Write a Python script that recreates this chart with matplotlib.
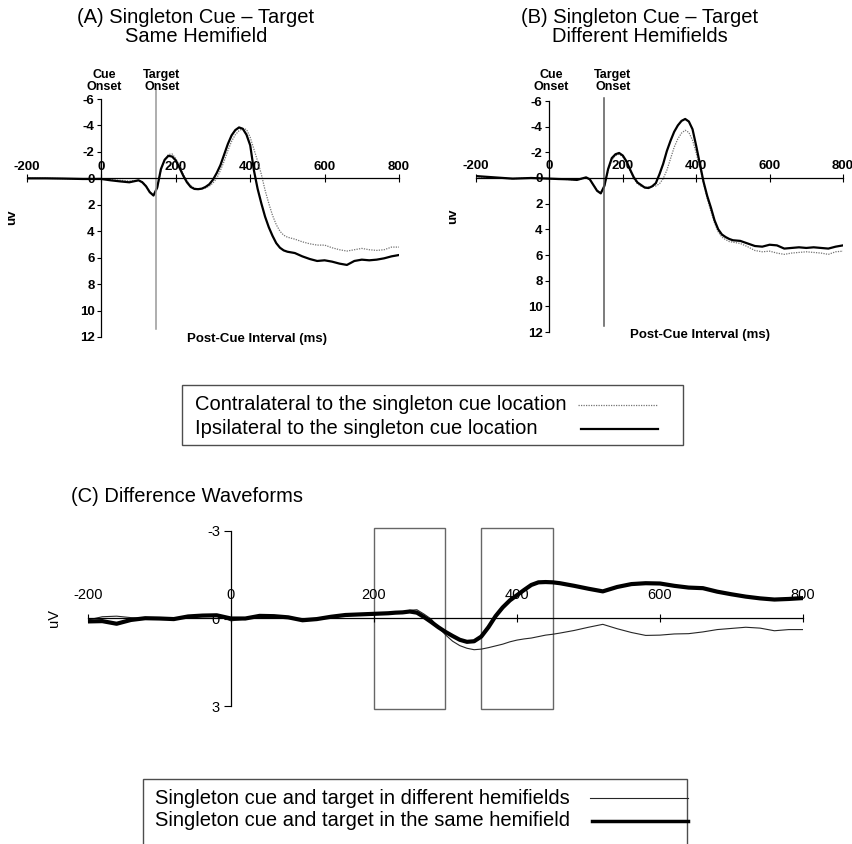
import matplotlib.pyplot as plt
from matplotlib.patches import Rectangle
from matplotlib.lines import Line2D

plt.rcParams['font.family'] = ['Liberation Sans', 'DejaVu Sans']
plt.rcParams['axes.unicode_minus'] = False

W, H = 853, 844

# ERP waveforms, panels A and B (ms, uV; negative up)
t_ab = [-200, -150, -100, -50, 0, 25, 50, 75,
        100, 110, 120, 130, 140, 150, 160, 170, 180, 190,
        200, 210, 220, 230, 240, 250, 260, 270, 280, 290,
        300, 310, 320, 330, 340, 350, 360, 370, 380, 390,
        400, 410, 420, 430, 440, 450, 460, 470, 480, 490,
        500, 520, 540, 560, 580, 600, 620, 640, 660, 680,
        700, 720, 740, 760, 780, 800]

a_contra = [0, 0, 0.02, 0.05, 0.05, 0.1, 0.15, 0.2,
            0.15, 0.25, 0.55, 1.0, 1.25, 0.75, -0.6, -1.4, -1.8, -1.85,
            -1.5, -0.95, -0.3, 0.2, 0.55, 0.75, 0.8, 0.8, 0.72, 0.6,
            0.35, 0.0, -0.6, -1.3, -2.1, -2.8, -3.3, -3.6, -3.75, -3.7,
            -3.1, -2.2, -1.3, -0.3, 0.9, 1.9, 2.8, 3.5, 4.0, 4.3,
            4.45, 4.6, 4.8, 4.95, 5.05, 5.05, 5.25, 5.4, 5.5, 5.4,
            5.3, 5.4, 5.45, 5.4, 5.2, 5.2]
a_ipsi = [0, 0, 0.02, 0.05, 0.05, 0.15, 0.23, 0.3,
          0.15, 0.3, 0.6, 1.05, 1.3, 0.7, -0.7, -1.4, -1.7, -1.65,
          -1.35, -0.8, -0.2, 0.3, 0.65, 0.8, 0.82, 0.78, 0.65, 0.45,
          0.1, -0.4, -1.0, -1.8, -2.6, -3.25, -3.65, -3.85, -3.75, -3.3,
          -2.5, -0.6, 0.8, 1.9, 2.9, 3.7, 4.35, 4.9, 5.25, 5.45,
          5.55, 5.65, 5.9, 6.1, 6.25, 6.2, 6.3, 6.45, 6.55, 6.25,
          6.15, 6.2, 6.15, 6.05, 5.9, 5.8]

b_contra = [-0.1, 0.0, 0.05, 0.0, 0.05, 0.08, 0.12, 0.15,
            0.0, 0.15, 0.55, 0.95, 1.15, 0.6, -0.6, -1.4, -1.75, -1.85,
            -1.65, -1.2, -0.55, 0.05, 0.45, 0.65, 0.72, 0.7, 0.65, 0.62,
            0.45, 0.05, -0.6, -1.5, -2.4, -3.05, -3.5, -3.72, -3.55, -2.95,
            -1.95, -0.8, 0.4, 1.6, 2.6, 3.5, 4.2, 4.6, 4.8, 4.95,
            5.0, 5.1, 5.35, 5.65, 5.75, 5.7, 5.85, 5.95, 5.85, 5.8,
            5.75, 5.8, 5.85, 5.95, 5.75, 5.7]
b_ipsi = [-0.15, -0.05, 0.05, 0.0, 0.05, 0.08, 0.1, 0.15,
          -0.05, 0.1, 0.55, 1.0, 1.2, 0.6, -0.7, -1.55, -1.85, -1.95,
          -1.75, -1.3, -0.65, -0.05, 0.35, 0.55, 0.75, 0.78, 0.65, 0.4,
          -0.3, -1.1, -2.1, -2.9, -3.6, -4.1, -4.45, -4.6, -4.4, -3.8,
          -2.5, -1.1, 0.3, 1.4, 2.3, 3.3, 4.0, 4.4, 4.6, 4.75,
          4.85, 4.9, 5.1, 5.3, 5.35, 5.2, 5.25, 5.5, 5.45, 5.4,
          5.45, 5.4, 5.45, 5.5, 5.35, 5.25]

# difference waveforms, panel C
t_c = [-200, -180, -160, -140, -120, -100, -80, -60, -40, -20,
       0, 20, 40, 60, 80, 100, 120, 140, 160, 180, 200, 220,
       230, 240, 250, 260, 270, 280, 290, 300, 310, 320, 330, 340,
       350, 360, 370, 380, 390, 400, 410, 420, 430, 440, 450, 460,
       480, 500, 520, 540, 560, 580, 600, 620, 640, 660, 680,
       700, 720, 740, 760, 780, 800]
c_diff = [0.05, -0.06, -0.08, -0.03, 0.0, 0.0, 0.02, -0.05, -0.08, -0.1,
          0.08, 0.02, -0.08, -0.07, -0.04, 0.07, 0.02, -0.06, -0.1, -0.12, -0.14, -0.16,
          -0.18, -0.22, -0.28, -0.3, -0.15, 0.02, 0.3, 0.56, 0.78, 0.93, 1.02, 1.07,
          1.05, 1.0, 0.94, 0.88, 0.8, 0.74, 0.7, 0.67, 0.62, 0.57, 0.54, 0.5,
          0.41, 0.3, 0.2, 0.35, 0.48, 0.58, 0.57, 0.53, 0.52, 0.46, 0.38,
          0.34, 0.3, 0.33, 0.42, 0.38, 0.38]
c_same = [0.1, 0.09, 0.18, 0.05, -0.01, 0.0, 0.02, -0.07, -0.1, -0.11,
          0.0, 0.0, -0.09, -0.08, -0.04, 0.06, 0.02, -0.06, -0.12, -0.14, -0.16, -0.18,
          -0.2, -0.21, -0.24, -0.2, -0.05, 0.12, 0.3, 0.46, 0.6, 0.73, 0.8, 0.78,
          0.62, 0.3, -0.08, -0.38, -0.62, -0.8, -0.98, -1.15, -1.24, -1.25, -1.24, -1.21,
          -1.12, -1.02, -0.93, -1.08, -1.18, -1.21, -1.2, -1.12, -1.06, -1.04, -0.92,
          -0.83, -0.75, -0.69, -0.65, -0.67, -0.7]

ab_xticks = [-200, 0, 200, 400, 600, 800]
ab_yticks = [-6, -4, -2, 0, 2, 4, 6, 8, 10, 12]
c_xticks = [-200, 0, 200, 400, 600, 800]
c_yticks = [-3, 0, 3]
target_onset = 148
c_windows = [(200, 300), (350, 450)]

legend_ab = ['Contralateral to the singleton cue location',
             'Ipsilateral to the singleton cue location']
legend_c = ['Singleton cue and target in different hemifields',
            'Singleton cue and target in the same hemifield']

fig = plt.figure(figsize=(W / 100, H / 100), dpi=100)


def rect(l, t, r, b):
    return [l / W, 1 - b / H, (r - l) / W, (b - t) / H]


def ftext(x, y, s, **kw):
    fig.text(x / W, 1 - y / H, s, **kw)


def cross_axes(ax):
    ax.patch.set_visible(False)
    ax.spines['right'].set_visible(False)
    ax.spines['bottom'].set_visible(False)
    ax.spines['left'].set_position(('data', 0))
    ax.spines['top'].set_position(('data', 0))
    ax.spines['left'].set_linewidth(0.9)
    ax.spines['top'].set_linewidth(0.9)
    ax.xaxis.set_ticks_position('top')


def erp_panel(box, contra, ipsi, onset_color, onset_span):
    ax = fig.add_axes(rect(*box))
    ax.plot(t_ab, contra, color='0.45', lw=0.9, ls=(0, (1, 1)))
    ax.plot(t_ab, ipsi, color='black', lw=1.6)
    ax.set_xlim(-200, 800)
    ax.set_ylim(12, -6)
    cross_axes(ax)
    ax.set_xticks(ab_xticks)
    ax.set_yticks(ab_yticks)
    ax.tick_params(axis='x', direction='inout', length=6, width=0.8, pad=1, labelsize=9.5)
    ax.tick_params(axis='y', direction='out', length=3, width=0.8, pad=2, labelsize=9.5)
    for lab in ax.get_xticklabels() + ax.get_yticklabels():
        lab.set_fontweight('bold')
    ax.plot([target_onset, target_onset], onset_span, color=onset_color, lw=1.1, clip_on=False)
    return ax


erp_panel((27, 99, 399, 337), a_contra, a_ipsi, '0.6', [-6.7, 11.4])
erp_panel((476, 101, 843, 332), b_contra, b_ipsi, '0.35', [-6.2, 11.5])

bold = dict(fontweight='bold', ha='center', va='center')
ftext(196, 27, '(A) Singleton Cue – Target\nSame Hemifield', ha='center', va='center',
      fontsize=14.5, linespacing=1.05)
ftext(640, 27, '(B) Singleton Cue – Target\nDifferent Hemifields', ha='center', va='center',
      fontsize=14.5, linespacing=1.05)
for cx, tx in [(104, 162), (551, 613)]:
    ftext(cx, 81, 'Cue\nOnset', fontsize=9, linespacing=0.92, **bold)
    ftext(tx, 81, 'Target\nOnset', fontsize=9, linespacing=0.92, **bold)
ftext(12, 217, 'uv', fontsize=9.5, rotation=90, **bold)
ftext(453, 216, 'uv', fontsize=9.5, rotation=90, **bold)
ftext(257, 339, 'Post-Cue Interval (ms)', fontsize=9.5, **bold)
ftext(700, 335, 'Post-Cue Interval (ms)', fontsize=9.5, **bold)

# legend for A and B
fig.patches.append(Rectangle((182 / W, 1 - 445 / H), 501 / W, 60 / H, transform=fig.transFigure,
                             fill=False, ec='0.3', lw=1))
ftext(195, 405, legend_ab[0], fontsize=14.5, va='center')
ftext(195, 428, legend_ab[1], fontsize=14.5, va='center')
fig.lines.append(Line2D([578 / W, 658 / W], [1 - 405 / H] * 2, transform=fig.transFigure,
                        color='0.45', lw=0.9, ls=(0, (1, 1))))
fig.lines.append(Line2D([581 / W, 658 / W], [1 - 429 / H] * 2, transform=fig.transFigure,
                        color='black', lw=1.6))

# panel C
ftext(71, 497, '(C) Difference Waveforms', fontsize=14.5, va='center')
axc = fig.add_axes(rect(88, 531, 803, 706))
axc.plot(t_c, c_diff, color='0.15', lw=0.8)
axc.plot(t_c, c_same, color='black', lw=3)
axc.set_xlim(-200, 800)
axc.set_ylim(3, -3)
cross_axes(axc)
axc.set_xticks(c_xticks)
axc.set_yticks(c_yticks)
axc.tick_params(axis='x', direction='inout', length=6, width=0.8, pad=9, labelsize=10.5)
axc.tick_params(axis='y', direction='out', length=5, width=0.8, pad=3, labelsize=10.5)
for lo, hi in c_windows:
    axc.add_patch(Rectangle((lo, -3.1), hi - lo, 6.2, fill=False, ec='0.4', lw=1, clip_on=False))
ftext(54, 618, 'uV', fontsize=10.5, rotation=90, ha='center', va='center')

# legend for C
fig.patches.append(Rectangle((143 / W, 1 - 870 / H), 544 / W, 91 / H, transform=fig.transFigure,
                             fill=False, ec='0.3', lw=1))
ftext(155, 798, legend_c[0], fontsize=14.5, va='center')
ftext(155, 821, legend_c[1], fontsize=14.5, va='center')
fig.lines.append(Line2D([590 / W, 688 / W], [1 - 798 / H] * 2, transform=fig.transFigure,
                        color='0.15', lw=0.8))
fig.lines.append(Line2D([592 / W, 688 / W], [1 - 821 / H] * 2, transform=fig.transFigure,
                        color='black', lw=2.5))

fig.savefig('out.png', dpi=100)
